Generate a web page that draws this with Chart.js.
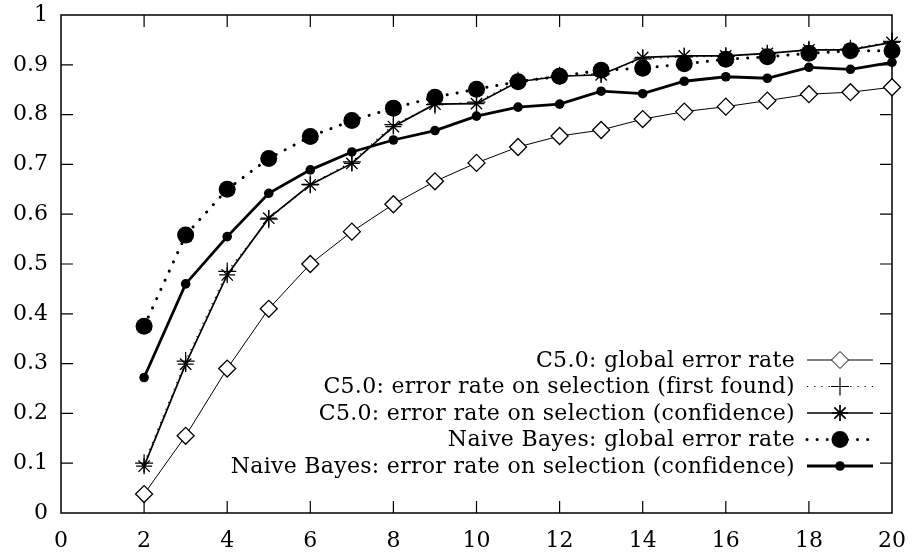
<!DOCTYPE html>
<html>
<head>
<meta charset="utf-8">
<script src="https://cdn.jsdelivr.net/npm/chart.js@4.4.0/dist/chart.umd.min.js"></script>
<style>
  html, body { margin: 0; padding: 0; background: #fff; }
  #wrap { width: 916px; height: 555px; }
</style>
</head>
<body>
<div id="wrap"><canvas id="errChart"></canvas></div>
<script>
// x positions (number of selected items)
const xValues = [2, 3, 4, 5, 6, 7, 8, 9, 10, 11, 12, 13, 14, 15, 16, 17, 18, 19, 20];

// series
const c50Global = [0.038, 0.155, 0.29, 0.41, 0.50, 0.565, 0.62, 0.666, 0.703, 0.735, 0.757, 0.769, 0.791, 0.806, 0.816, 0.828, 0.841, 0.845, 0.855];
const c50FirstFound = [0.10, 0.305, 0.485, 0.59, 0.66, 0.705, 0.78, 0.82, 0.825, 0.868, 0.878, 0.882, 0.912, 0.916, 0.917, 0.922, 0.93, 0.932, 0.947];
const c50Confidence = [0.094, 0.299, 0.478, 0.592, 0.659, 0.702, 0.776, 0.821, 0.822, 0.866, 0.877, 0.88, 0.915, 0.918, 0.918, 0.923, 0.93, 0.93, 0.945];
const nbGlobal = [0.375, 0.558, 0.65, 0.712, 0.756, 0.788, 0.813, 0.835, 0.851, 0.866, 0.877, 0.889, 0.893, 0.902, 0.911, 0.916, 0.923, 0.928, 0.928];
const nbConfidence = [0.272, 0.46, 0.555, 0.642, 0.689, 0.725, 0.749, 0.768, 0.797, 0.815, 0.821, 0.847, 0.842, 0.867, 0.876, 0.873, 0.895, 0.891, 0.905];

const seriesLabels = [
  "C5.0: global error rate",
  "C5.0: error rate on selection (first found)",
  "C5.0: error rate on selection (confidence)",
  "Naive Bayes: global error rate",
  "Naive Bayes: error rate on selection (confidence)",
];

const xTicks = [0, 2, 4, 6, 8, 10, 12, 14, 16, 18, 20];
const yTicks = [0, 0.1, 0.2, 0.3, 0.4, 0.5, 0.6, 0.7, 0.8, 0.9, 1];

const FONT = "'DejaVu Serif', serif";
const FONT_SIZE = 22;

function pts(ys) {
  return xValues.map(function (x, i) { return { x: x, y: ys[i] }; });
}

// inward ticks on all four sides + frame
const framePlugin = {
  id: "frame",
  beforeDatasetsDraw(chart) {
    const ctx = chart.ctx;
    const a = chart.chartArea;
    const xs = chart.scales.x, ys = chart.scales.y;
    const len = 12;
    ctx.save();
    ctx.strokeStyle = "#000";
    ctx.lineWidth = 1.2;
    ctx.beginPath();
    xTicks.slice(1, -1).forEach(function (v) {
      const px = xs.getPixelForValue(v);
      ctx.moveTo(px, a.bottom); ctx.lineTo(px, a.bottom - len);
      ctx.moveTo(px, a.top); ctx.lineTo(px, a.top + len);
    });
    yTicks.slice(1, -1).forEach(function (v) {
      const py = ys.getPixelForValue(v);
      ctx.moveTo(a.left, py); ctx.lineTo(a.left + len, py);
      ctx.moveTo(a.right, py); ctx.lineTo(a.right - len, py);
    });
    ctx.stroke();
    ctx.lineWidth = 1.5;
    ctx.strokeRect(a.left, a.top, a.right - a.left, a.bottom - a.top);
    ctx.restore();
  },
};

// gnuplot-style key: right aligned text, sample to the right
const keyPlugin = {
  id: "key",
  afterDraw(chart) {
    const ctx = chart.ctx;
    const a = chart.chartArea;
    const textRight = a.right - 97;
    const lineL = a.right - 85, lineR = a.right - 19;
    const markX = (lineL + lineR) / 2;
    const rowTop = a.top + 345, rowH = 26.5;
    ctx.save();
    ctx.font = FONT_SIZE + "px " + FONT;
    ctx.letterSpacing = "0.3px";
    ctx.textAlign = "right";
    ctx.textBaseline = "middle";
    chart.data.datasets.forEach(function (ds, i) {
      const y = rowTop + i * rowH;
      ctx.fillStyle = "#000";
      ctx.fillText(ds.label, textRight, y + 1);
      ctx.strokeStyle = "#000";
      ctx.lineWidth = ds.borderWidth;
      ctx.lineCap = ds.borderCapStyle || "butt";
      ctx.setLineDash(ds.borderDash || []);
      ctx.beginPath();
      ctx.moveTo(lineL, y); ctx.lineTo(lineR, y);
      ctx.stroke();
      ctx.setLineDash([]);
      ctx.lineCap = "butt";
      ctx.fillStyle = ds.pointBackgroundColor;
      ctx.strokeStyle = ds.pointBorderColor;
      Chart.helpers.drawPoint(ctx, {
        pointStyle: ds.pointStyle,
        radius: ds.pointRadius,
        rotation: 0,
        borderWidth: ds.pointBorderWidth,
      }, markX, y);
    });
    ctx.restore();
  },
};

document.addEventListener("DOMContentLoaded", function () {
  const ctx = document.getElementById("errChart").getContext("2d");

  new Chart(ctx, {
    type: "line",
    data: {
      datasets: [
        {
          label: seriesLabels[0],
          data: pts(c50Global),
          borderColor: "#000",
          borderWidth: 1,
          pointStyle: "rectRot",
          pointRadius: 8.5,
          pointBackgroundColor: "#fff",
          pointBorderColor: "#000",
          pointBorderWidth: 1.3,
        },
        {
          label: seriesLabels[1],
          data: pts(c50FirstFound),
          borderColor: "#000",
          borderWidth: 1.2,
          borderDash: [1.2, 6],
          pointStyle: "cross",
          pointRadius: 9,
          pointBackgroundColor: "#000",
          pointBorderColor: "#000",
          pointBorderWidth: 1.2,
        },
        {
          label: seriesLabels[2],
          data: pts(c50Confidence),
          borderColor: "#000",
          borderWidth: 1.7,
          pointStyle: "star",
          pointRadius: 8,
          pointBackgroundColor: "#000",
          pointBorderColor: "#000",
          pointBorderWidth: 1.3,
        },
        {
          label: seriesLabels[3],
          data: pts(nbGlobal),
          borderColor: "#000",
          borderWidth: 3,
          borderDash: [0.1, 10],
          borderCapStyle: "round",
          pointStyle: "circle",
          pointRadius: 8.5,
          pointBackgroundColor: "#000",
          pointBorderColor: "#000",
          pointBorderWidth: 0,
        },
        {
          label: seriesLabels[4],
          data: pts(nbConfidence),
          borderColor: "#000",
          borderWidth: 2.8,
          pointStyle: "circle",
          pointRadius: 4.8,
          pointBackgroundColor: "#000",
          pointBorderColor: "#000",
          pointBorderWidth: 0,
        },
      ],
    },
    options: {
      responsive: true,
      maintainAspectRatio: false,
      animation: false,
      layout: {
        padding: { top: 15, right: 24, left: 0, bottom: 0 },
      },
      elements: {
        line: { tension: 0, fill: false },
      },
      datasets: {
        line: { clip: false },
      },
      plugins: {
        legend: { display: false },
        tooltip: { enabled: false },
      },
      scales: {
        x: {
          type: "linear",
          min: 0,
          max: 20,
          afterBuildTicks: function (scale) {
            scale.ticks = xTicks.map(function (v) { return { value: v }; });
          },
          afterFit: function (scale) {
            scale.height = 42;
            scale.paddingLeft = 0;
            scale.paddingRight = 0;
          },
          grid: { display: false, drawTicks: false },
          border: { display: false },
          ticks: {
            color: "#000",
            padding: 15,
            maxRotation: 0,
            autoSkip: false,
            font: { family: FONT, size: FONT_SIZE },
            callback: function (v) { return String(v); },
          },
        },
        y: {
          type: "linear",
          min: 0,
          max: 1,
          afterBuildTicks: function (scale) {
            scale.ticks = yTicks.map(function (v) { return { value: v }; });
          },
          afterFit: function (scale) {
            scale.width = 61;
            scale.paddingTop = 0;
            scale.paddingBottom = 0;
          },
          grid: { display: false, drawTicks: false },
          border: { display: false },
          ticks: {
            color: "#000",
            padding: 13,
            autoSkip: false,
            font: { family: FONT, size: FONT_SIZE },
            callback: function (v) { return String(v); },
          },
        },
      },
    },
    plugins: [framePlugin, keyPlugin],
  });
});
</script>
</body>
</html>
